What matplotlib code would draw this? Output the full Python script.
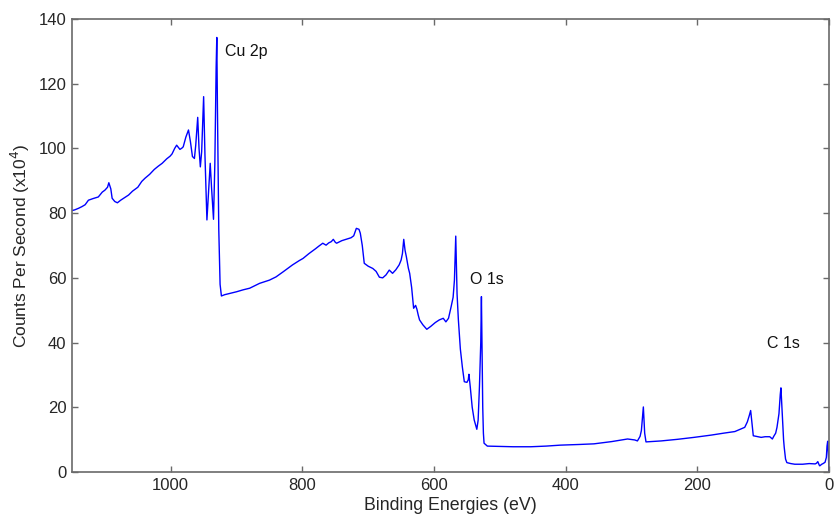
import matplotlib
matplotlib.use("Agg")
import matplotlib.pyplot as plt
import numpy as np

plt.rcParams['font.family'] = ['Liberation Sans', 'DejaVu Sans']

# XPS survey spectrum, split into energy windows.
# Binding energy in eV, intensity in counts per second (x10^4).
energy_high = [1150, 1146, 1140, 1135, 1130, 1125, 1118, 1110, 1104, 1100,
               1096, 1094, 1091, 1089, 1085, 1081, 1076, 1070, 1064, 1058,
               1050, 1044, 1039, 1032, 1025, 1019, 1013, 1006, 1001]
counts_high = [80.8, 81.0, 81.5, 82.0, 82.6, 84.0, 84.5, 85.0, 86.5, 87.1,
               88.0, 89.4, 87.5, 84.6, 83.6, 83.2, 84.0, 84.8, 85.6, 86.8,
               88.0, 89.8, 90.8, 92.0, 93.5, 94.5, 95.4, 96.8, 97.6]

energy_cu = [998, 994, 991, 988, 986, 983, 981, 977, 973, 970,
             967, 964, 962, 959, 957, 955, 953, 950, 948, 945,
             943, 940, 938, 935, 933, 931, 930, 929, 927, 925, 923]
counts_cu = [98.3, 100.0, 101.0, 100.2, 99.7, 100.1, 100.5, 103.5, 105.7, 102.0,
             97.5, 96.9, 101.0, 109.6, 100.0, 94.3, 99.0, 116.0, 98.0, 77.9,
             85.0, 95.4, 88.0, 78.1, 95.0, 125.0, 134.3, 112.0, 75.0, 58.0, 54.4]

energy_mid = [918, 910, 900, 890, 880, 865, 850, 840, 829, 815,
              805, 799, 790, 780, 775, 769, 764, 760, 756, 753,
              750, 748, 740, 732, 726, 722, 718, 714, 712, 709,
              706, 700, 693, 688, 683, 678, 673, 668, 665, 663,
              658, 653, 650, 648, 646, 644, 642, 639, 637, 634,
              631, 628, 626, 624, 622]
counts_mid = [54.8, 55.2, 55.7, 56.3, 56.8, 58.3, 59.3, 60.3, 61.9, 64.0,
              65.3, 66.0, 67.5, 69.0, 69.8, 70.7, 70.1, 70.8, 71.2, 71.9,
              71.0, 70.7, 71.5, 72.0, 72.4, 73.0, 75.3, 75.0, 73.8, 70.0,
              64.5, 63.6, 62.9, 62.0, 60.2, 60.0, 60.9, 62.4, 61.8, 61.4,
              62.5, 64.0, 65.5, 67.5, 71.9, 68.5, 66.5, 63.0, 61.4, 57.0,
              50.6, 51.5, 50.3, 48.5, 47.0]

energy_o = [617, 611, 605, 598, 592, 586, 582, 578, 574, 571,
            569, 567, 565, 563, 560, 557, 554, 550, 548, 547,
            545, 542, 539, 535, 533, 531, 529, 528, 526, 525,
            524, 519]
counts_o = [45.5, 44.1, 45.0, 46.2, 47.0, 47.5, 46.4, 47.5, 51.1, 54.0,
            59.3, 72.9, 55.0, 47.0, 38.0, 32.5, 27.9, 27.7, 28.5, 30.2,
            26.4, 20.0, 16.1, 13.2, 16.0, 26.4, 40.0, 54.2, 20.0, 12.0,
            8.9, 8.0]

energy_low = [500, 480, 453, 430, 408, 380, 357, 330, 306, 295,
              291, 287, 285, 282, 280, 278, 270, 255, 230, 205,
              179, 160, 143, 135, 128, 124, 121, 119, 117, 115,
              110, 103, 97, 90, 86, 84, 81, 79, 76, 74,
              73, 71, 69, 68, 66, 64, 58, 52, 40, 30,
              21, 19, 17, 15, 14, 11, 9, 6, 4, 3,
              2, 1, 0]
counts_low = [7.9, 7.8, 7.8, 8.0, 8.3, 8.5, 8.7, 9.4, 10.2, 9.9,
              9.6, 11.0, 12.8, 20.1, 12.0, 9.3, 9.4, 9.6, 10.1, 10.7,
              11.4, 12.0, 12.5, 13.2, 13.8, 15.5, 17.5, 19.0, 15.0, 11.2,
              11.0, 10.7, 10.9, 10.9, 10.2, 11.0, 12.0, 13.8, 18.0, 24.0,
              26.0, 18.0, 10.0, 7.6, 4.0, 2.9, 2.6, 2.4, 2.4, 2.6,
              2.5, 2.7, 3.2, 2.2, 1.9, 2.4, 2.6, 3.0, 4.5, 8.0,
              9.5, 6.0, 0.0]

peak_labels = ["Cu 2p", "O 1s", "C 1s"]
label_energy = [917, 546, 94]
label_counts = [130.0, 59.6, 39.6]

x_ticks = [1000, 800, 600, 400, 200, 0]
y_ticks = [0, 20, 40, 60, 80, 100, 120, 140]

binding_energy = np.concatenate([energy_high, energy_cu, energy_mid, energy_o, energy_low])
counts = np.concatenate([counts_high, counts_cu, counts_mid, counts_o, counts_low])

fig = plt.figure(figsize=(8.35, 5.22), dpi=100)
ax = fig.add_axes([0.0862, 0.0958, 0.9066, 0.8678])

ax.plot(binding_energy, counts, color='#0000ff', linewidth=1.0)

for name, e, c in zip(peak_labels, label_energy, label_counts):
    ax.text(e, c, name, fontsize=11.5, color='#111111', ha='left', va='center')

ax.set_xlim(1150, 0)
ax.set_ylim(0, 140)
ax.set_xticks(x_ticks)
ax.set_yticks(y_ticks)

axis_grey = '#6a6a6a'
for side in ax.spines.values():
    side.set_color(axis_grey)
    side.set_linewidth(1.2)
ax.tick_params(direction='in', length=4, width=1.0, color=axis_grey,
               labelsize=12, labelcolor='#262626',
               top=True, right=True, pad=4)

ax.set_xlabel('Binding Energies (eV)', fontsize=12.8, color='#262626', labelpad=3)
ax.set_ylabel('Counts Per Second (x10$^4$)', fontsize=12.5, color='#262626', labelpad=5)

fig.savefig('out.png', dpi=100)
